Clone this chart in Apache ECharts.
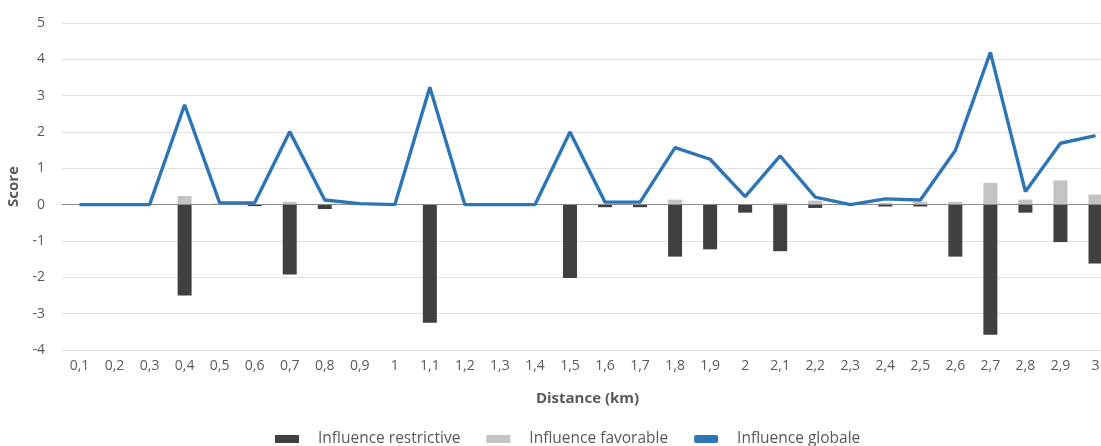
<!DOCTYPE html>
<html>
<head>
<meta charset="utf-8">
<script src="https://cdn.jsdelivr.net/npm/echarts@6/dist/echarts.min.js"></script>
<style>
html,body{margin:0;padding:0;background:#fff;overflow:hidden;}
#chart{width:1101px;height:446px;}
</style>
</head>
<body>
<div id="chart"></div>
<script>
const categories = ['0,1','0,2','0,3','0,4','0,5','0,6','0,7','0,8','0,9','1','1,1','1,2','1,3','1,4','1,5','1,6','1,7','1,8','1,9','2','2,1','2,2','2,3','2,4','2,5','2,6','2,7','2,8','2,9','3'];
const restrictive = [0,0,0,-2.5,0,-0.04,-1.92,-0.12,0,0,-3.25,0,0,0,-2.02,-0.07,-0.07,-1.43,-1.23,-0.22,-1.28,-0.09,0,-0.05,-0.05,-1.43,-3.58,-0.22,-1.03,-1.62];
const favorable = [0,0,0,0.24,0.03,0,0.08,0,0,0,0,0,0,0,0,0,0,0.14,0,0,0.05,0.11,0,0.05,0.08,0.08,0.6,0.14,0.67,0.28];
const globale = [0,0,0,2.75,0.05,0.05,2.01,0.13,0.03,0,3.23,0,0,0,2.0,0.07,0.07,1.57,1.25,0.22,1.34,0.21,0,0.16,0.13,1.49,4.19,0.36,1.69,1.9];
const yTicks = {min:-4, max:5, interval:1};

const font = 'Open Sans';
const chart = echarts.init(document.getElementById('chart'));
chart.setOption({
  animation:false,
  textStyle:{fontFamily:font},
  grid:{left:62, width:1051, top:23, bottom:96, containLabel:false, outerBoundsMode:'none'},
  legend:{
    bottom:-6, left:270, itemGap:26, itemWidth:24, itemHeight:8,
    textStyle:{color:'#595959', fontSize:15.5, fontFamily:font, padding:[0,0,0,14]},
    data:[
      {name:'Influence restrictive', icon:'rect'},
      {name:'Influence favorable', icon:'rect'},
      {name:'Influence globale', icon:'roundRect'}
    ]
  },
  xAxis:{
    type:'category', data:categories, z:10,
    name:'Distance (km)', nameLocation:'middle', nameGap:41,
    nameTextStyle:{color:'#595959', fontSize:15, fontWeight:'bold', fontFamily:font},
    axisLine:{show:true, onZero:true, lineStyle:{color:'#8a8a8a', width:1.2}},
    axisTick:{show:false},
    axisLabel:{color:'#595959', fontSize:14, margin:9, interval:0},
    position:'bottom'
  },
  yAxis:{
    type:'value', min:yTicks.min, max:yTicks.max, interval:yTicks.interval,
    name:'Score', nameLocation:'middle', nameGap:30, nameRotate:90,
    nameTextStyle:{color:'#595959', fontSize:15, fontWeight:'bold', fontFamily:font},
    axisLine:{show:false}, axisTick:{show:false},
    axisLabel:{color:'#595959', fontSize:14, margin:17},
    splitLine:{lineStyle:{color:'#e0e0e0', width:1}}
  },
  series:[
    {name:'Influence restrictive', type:'bar', data:restrictive, stack:'s', barWidth:14,
     itemStyle:{color:'#404040'}},
    {name:'Influence favorable', type:'bar', data:favorable, stack:'s', barWidth:14,
     itemStyle:{color:'#c3c3c3'}},
    {name:'Influence globale', type:'line', data:globale, symbol:'none', z:12,
     lineStyle:{color:'#2e75b6', width:3.4}, itemStyle:{color:'#2e75b6'}}
  ]
});
</script>
</body>
</html>
